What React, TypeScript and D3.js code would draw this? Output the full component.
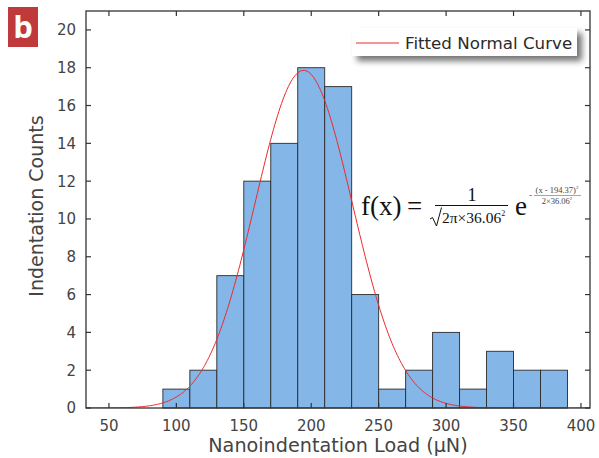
import React from 'react';
import * as d3 from 'd3';

const binStarts = [70, 90, 110, 130, 150, 170, 190, 210, 230, 250, 270, 290, 310, 330, 350, 370];
const counts = [0, 1, 2, 7, 12, 14, 18, 17, 6, 1, 2, 4, 1, 3, 2, 2];
const binWidth = 20;
const xTicks = [50, 100, 150, 200, 250, 300, 350, 400];
const yTicks = [0, 2, 4, 6, 8, 10, 12, 14, 16, 18, 20];
const fitMean = 194.37;
const fitSd = 36.06;
const fitPeak = 17.86;

const W = 599;
const H = 458;
const L = 86, R = 590, T = 11, B = 408;
const sans = "'DejaVu Sans', 'Open Sans', sans-serif";
const serif = "'Liberation Serif', 'Times New Roman', serif";

export default function App() {
  const x = d3.scaleLinear().domain([33, 406.7]).range([L, R]);
  const y = d3.scaleLinear().domain([0, 21]).range([B, T]);

  const curvePts = d3.range(33, 406.7, 1).concat([406.7]).map((v) => [
    v,
    fitPeak * Math.exp(-((v - fitMean) ** 2) / (2 * fitSd * fitSd)),
  ] as [number, number]);
  const line = d3
    .line<[number, number]>()
    .x((d) => x(d[0]))
    .y((d) => y(d[1]))
    .curve(d3.curveLinear);

  const axisColor = '#333';
  const textColor = '#444';
  const tickLen = 5;

  return (
    <div style={{ position: 'absolute', left: 0, top: 0 }}>
      <svg width={W} height={H} style={{ display: 'block', background: '#fff' }}>
        <defs>
          <filter id="shadow" x="-20%" y="-50%" width="150%" height="250%">
            <feGaussianBlur in="SourceAlpha" stdDeviation="3" />
            <feOffset dx="5" dy="5" result="ob" />
            <feComponentTransfer>
              <feFuncA type="linear" slope="0.55" />
            </feComponentTransfer>
            <feMerge>
              <feMergeNode />
              <feMergeNode in="SourceGraphic" />
            </feMerge>
          </filter>
          <clipPath id="plotclip">
            <rect x={L} y={T} width={R - L} height={B - T} />
          </clipPath>
        </defs>

        {/* bars */}
        <g>
          {binStarts.map((s, i) => (
            <rect
              key={s}
              x={x(s)}
              y={y(counts[i])}
              width={x(s + binWidth) - x(s)}
              height={y(0) - y(counts[i])}
              fill="#84b6e7"
              stroke="#2b2b2b"
              strokeWidth={0.9}
            />
          ))}
        </g>

        {/* fitted curve */}
        <path d={line(curvePts) || ''} fill="none" stroke="#ee2a2a" strokeWidth={1} clipPath="url(#plotclip)" />

        {/* frame */}
        <rect x={L} y={T} width={R - L} height={B - T} fill="none" stroke={axisColor} strokeWidth={1.3} />

        {/* x ticks */}
        {xTicks.map((t) => (
          <g key={'x' + t}>
            <line x1={x(t)} x2={x(t)} y1={B} y2={B - tickLen} stroke={axisColor} strokeWidth={1.2} />
            <line x1={x(t)} x2={x(t)} y1={T} y2={T + tickLen} stroke={axisColor} strokeWidth={1.2} />
            <text
              x={x(t)}
              y={430.5}
              textAnchor="middle"
              fontFamily={sans}
              fontSize={15}
              fill={textColor}
            >
              {t}
            </text>
          </g>
        ))}

        {/* y ticks */}
        {yTicks.map((t) => (
          <g key={'y' + t}>
            <line x1={L} x2={L + tickLen} y1={y(t)} y2={y(t)} stroke={axisColor} strokeWidth={1.2} />
            <line x1={R} x2={R - tickLen} y1={y(t)} y2={y(t)} stroke={axisColor} strokeWidth={1.2} />
            <text
              x={76}
              y={y(t)}
              dy="0.36em"
              textAnchor="end"
              fontFamily={sans}
              fontSize={15}
              fill={textColor}
            >
              {t}
            </text>
          </g>
        ))}

        {/* axis titles */}
        <text x={338} y={451.5} textAnchor="middle" fontFamily={sans} fontSize={19.2} fill={textColor}>
          Nanoindentation Load (μN)
        </text>
        <text
          transform={`translate(43, ${206}) rotate(-90)`}
          textAnchor="middle"
          fontFamily={sans}
          fontSize={19}
          fill={textColor}
        >
          Indentation Counts
        </text>

        {/* legend */}
        <rect x={352} y={28} width={225} height={28} fill="#fff" filter="url(#shadow)" />
        <line x1={356} x2={399} y1={43} y2={43} stroke="#ee2a2a" strokeWidth={1} />
        <text x={405} y={49} fontFamily={sans} fontSize={16.7} fill="#2a2a2a">
          Fitted Normal Curve
        </text>

        {/* formula */}
        <g fontFamily={serif} fill="#111">
          <text x={361} y={215} fontSize={27}>f(x)</text>
          <text x={407} y={215} fontSize={27}>=</text>
          <text x={472} y={201} fontSize={18} textAnchor="middle">1</text>
          <line x1={435} x2={508} y1={205.5} y2={205.5} stroke="#111" strokeWidth={1} />
          <path d="M430,219 L432.5,217.5 L436.5,226 L441.5,207.5" fill="none" stroke="#111" strokeWidth={1} />
          <text x={442} y={223} fontSize={15.5}>
            2π×36.06
            <tspan fontSize={8} dy={-7}>2</tspan>
          </text>
          <text x={515} y={215} fontSize={27}>e</text>
          <g fill="#444">
            <text x={529} y={198} fontSize={9}>-</text>
            <text x={557} y={193} fontSize={8.5} textAnchor="middle">
              (x - 194.37)
              <tspan fontSize={5} dy={-4}>2</tspan>
            </text>
            <line x1={534} x2={581} y1={195.5} y2={195.5} stroke="#666" strokeWidth={0.6} />
            <text x={557} y={204} fontSize={8.5} textAnchor="middle">
              2×36.06
              <tspan fontSize={5} dy={-4}>2</tspan>
            </text>
          </g>
        </g>

        {/* panel badge */}
        <rect x={8} y={7} width={30} height={40} fill="#c0393b" />
        <text x={23} y={38} textAnchor="middle" fontFamily="'Open Sans', sans-serif" fontWeight={700} fontSize={31} fill="#fff">
          b
        </text>
      </svg>
    </div>
  );
}
